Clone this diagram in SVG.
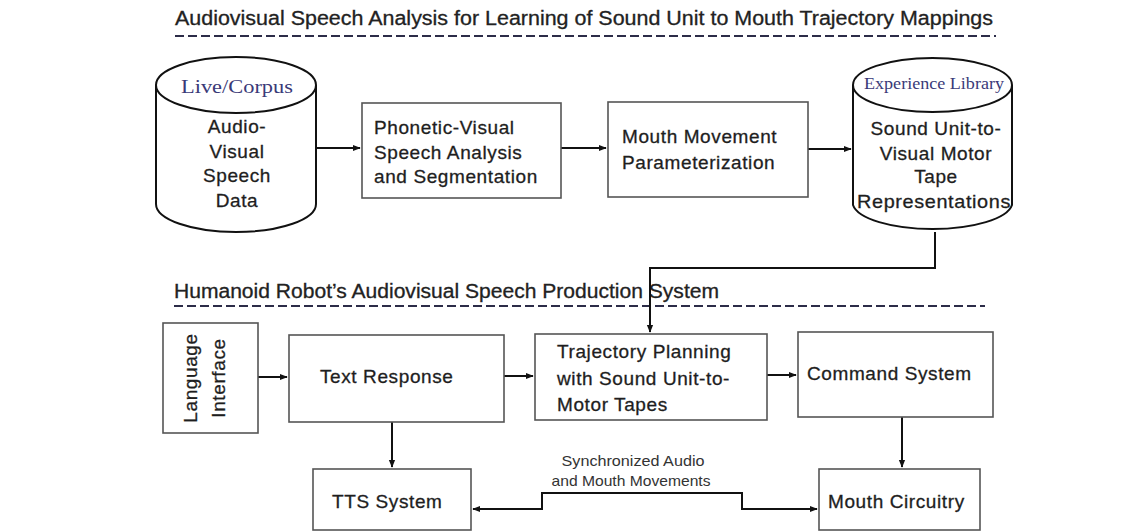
<svg xmlns="http://www.w3.org/2000/svg" width="1145" height="532" viewBox="0 0 1145 532">
<style>
.t{font-family:"Liberation Sans",Arial,sans-serif;font-size:19px;letter-spacing:0.6px;fill:#1e1e1e;stroke:#1e1e1e;stroke-width:0.3}
.c{text-anchor:middle}
.title{font-family:"Liberation Sans",Arial,sans-serif;font-size:20px;fill:#222;stroke:#222;stroke-width:0.3}
.serif{font-family:"Liberation Serif","Times New Roman",serif;fill:#3a3a78;text-anchor:middle}
.box{fill:#fff;stroke:#555;stroke-width:1.6}
.cyl{fill:#fff;stroke:#111;stroke-width:2}
.dash{stroke:#2c2c48;stroke-width:2.2;stroke-dasharray:9 4;fill:none}
.con{fill:none;stroke:#111;stroke-width:2}
.lbl{font-family:"Liberation Sans",Arial,sans-serif;font-size:15px;fill:#333;text-anchor:middle}
</style>
<defs>
<marker id="ah" viewBox="0 0 10 10" refX="9" refY="5" markerWidth="8" markerHeight="8" markerUnits="userSpaceOnUse" orient="auto-start-reverse">
<path d="M0,1 L10,5 L0,9 z" fill="#111"/>
</marker>
</defs>
<rect width="1145" height="532" fill="#fff"/>

<g id="titles">
<text class="title" x="175" y="25" textLength="818" lengthAdjust="spacingAndGlyphs">Audiovisual Speech Analysis for Learning of Sound Unit to Mouth Trajectory Mappings</text>
<line class="dash" x1="175" y1="36" x2="996" y2="36"/>
<text class="title" x="174" y="298" textLength="545" lengthAdjust="spacingAndGlyphs">Humanoid Robot’s Audiovisual Speech Production System</text>
<line class="dash" x1="174" y1="306" x2="985" y2="306"/>
</g>

<g id="connectors">
<line class="con" x1="316" y1="148" x2="360" y2="148" marker-end="url(#ah)"/>
<line class="con" x1="561" y1="148" x2="606" y2="148" marker-end="url(#ah)"/>
<line class="con" x1="808" y1="149" x2="851" y2="149" marker-end="url(#ah)"/>
<path class="con" d="M935,232 V268 H650 V332" stroke-width="3" marker-end="url(#ah)"/>
<line class="con" x1="258" y1="377" x2="287" y2="377" marker-end="url(#ah)"/>
<line class="con" x1="504" y1="376" x2="533" y2="376" marker-end="url(#ah)"/>
<line class="con" x1="767" y1="375" x2="796" y2="375" marker-end="url(#ah)"/>
<line class="con" x1="392" y1="422" x2="392" y2="467" marker-end="url(#ah)"/>
<line class="con" x1="902" y1="417" x2="902" y2="467" marker-end="url(#ah)"/>
<path class="con" d="M473,509 H542 V493 H742 V509 H817" stroke-width="2.4" marker-start="url(#ah)" marker-end="url(#ah)"/>
<text class="lbl" x="633" y="466" textLength="143" lengthAdjust="spacingAndGlyphs">Synchronized Audio</text>
<text class="lbl" x="631" y="486" textLength="159" lengthAdjust="spacingAndGlyphs">and Mouth Movements</text>
</g>

<g id="live-corpus">
<path class="cyl" d="M156,85 V204 A80,28 0 0 0 316,204 V85"/>
<ellipse class="cyl" cx="236" cy="85" rx="80" ry="28"/>
<text class="serif" x="237" y="93" font-size="18" textLength="112" lengthAdjust="spacingAndGlyphs">Live/Corpus</text>
<text class="t c" x="237" y="133">Audio-</text>
<text class="t c" x="237" y="158">Visual</text>
<text class="t c" x="237" y="182">Speech</text>
<text class="t c" x="237" y="207">Data</text>
</g>

<g id="phonetic">
<rect class="box" x="362" y="103" width="199" height="95"/>
<text class="t" x="374" y="134">Phonetic-Visual</text>
<text class="t" x="374" y="159">Speech Analysis</text>
<text class="t" x="374" y="183">and Segmentation</text>
</g>

<g id="mouth-movement">
<rect class="box" x="608" y="102" width="200" height="95"/>
<text class="t" x="622" y="143">Mouth Movement</text>
<text class="t" x="622" y="169">Parameterization</text>
</g>

<g id="experience-library">
<path class="cyl" d="M853,85 V205 A80,27 0 0 0 1012,205 V85"/>
<ellipse class="cyl" cx="932.5" cy="85" rx="79.5" ry="27"/>
<text class="serif" x="934" y="89" font-size="17" textLength="140" lengthAdjust="spacingAndGlyphs">Experience Library</text>
<text class="t c" x="936" y="135">Sound Unit-to-</text>
<text class="t c" x="936" y="160">Visual Motor</text>
<text class="t c" x="936" y="183">Tape</text>
<text class="t c" x="934" y="208" textLength="154" lengthAdjust="spacingAndGlyphs">Representations</text>
</g>

<g id="language-interface">
<rect class="box" x="163" y="323" width="95" height="110"/>
<text class="t c" x="197" y="378" transform="rotate(-90 197 378)">Language</text>
<text class="t c" x="225" y="378" transform="rotate(-90 225 378)">Interface</text>
</g>

<g id="text-response">
<rect class="box" x="289" y="335" width="215" height="87"/>
<text class="t" x="320" y="383">Text Response</text>
</g>

<g id="trajectory">
<rect class="box" x="535" y="334" width="232" height="86"/>
<text class="t" x="557" y="358">Trajectory Planning</text>
<text class="t" x="557" y="385">with Sound Unit-to-</text>
<text class="t" x="557" y="411">Motor Tapes</text>
</g>

<g id="command-system">
<rect class="box" x="798" y="332" width="195" height="85"/>
<text class="t" x="807" y="380">Command System</text>
</g>

<g id="tts">
<rect class="box" x="313" y="469" width="158" height="61"/>
<text class="t" x="332" y="508">TTS System</text>
</g>

<g id="mouth-circuitry">
<rect class="box" x="819" y="469" width="161" height="61"/>
<text class="t" x="828" y="508">Mouth Circuitry</text>
</g>
</svg>
